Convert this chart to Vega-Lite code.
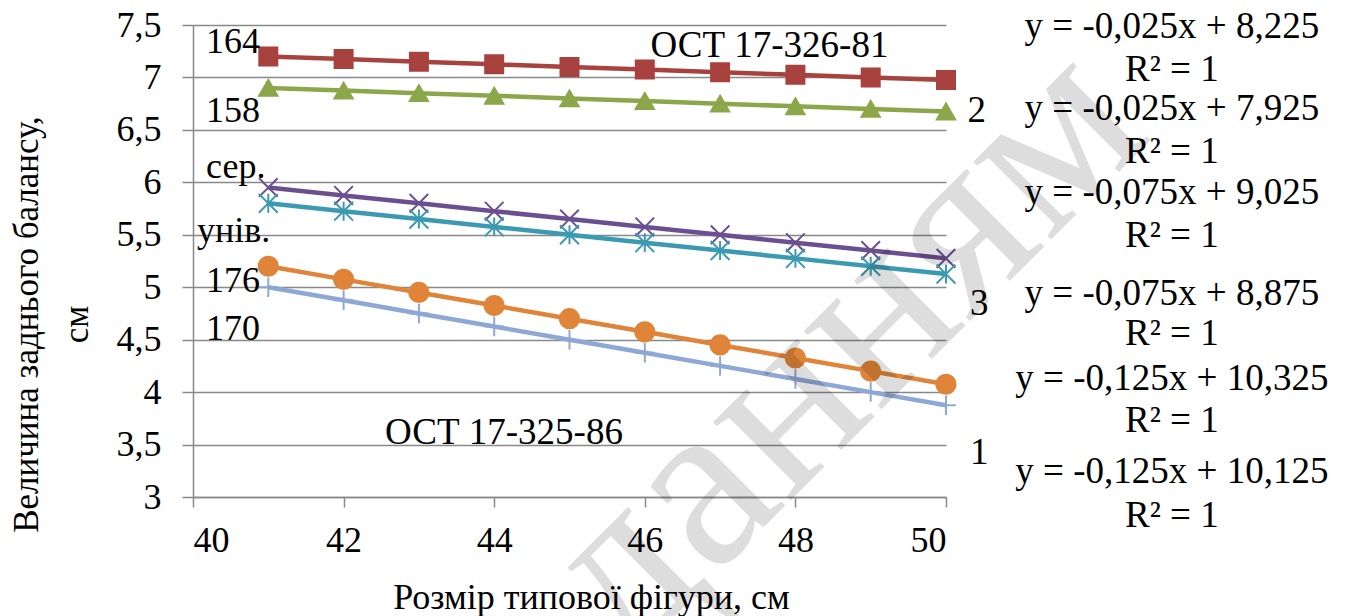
{
  "$schema": "https://vega.github.io/schema/vega-lite/v6.json",
  "autosize": {"type": "none"},
  "padding": {"left": 193, "top": 25, "right": 413, "bottom": 119},
  "width": 753,
  "height": 472,
  "background": "#ffffff",
  "config": {
    "font": "Liberation Serif",
    "view": {"stroke": null}
  },
  "datasets": {
    "series": [
      {"s": "164", "x": 41, "y": 7.2}, {"s": "164", "x": 42, "y": 7.175}, {"s": "164", "x": 43, "y": 7.15}, {"s": "164", "x": 44, "y": 7.125}, {"s": "164", "x": 45, "y": 7.1},
      {"s": "164", "x": 46, "y": 7.075}, {"s": "164", "x": 47, "y": 7.05}, {"s": "164", "x": 48, "y": 7.025}, {"s": "164", "x": 49, "y": 7.0}, {"s": "164", "x": 50, "y": 6.975},
      {"s": "158", "x": 41, "y": 6.9}, {"s": "158", "x": 42, "y": 6.875}, {"s": "158", "x": 43, "y": 6.85}, {"s": "158", "x": 44, "y": 6.825}, {"s": "158", "x": 45, "y": 6.8},
      {"s": "158", "x": 46, "y": 6.775}, {"s": "158", "x": 47, "y": 6.75}, {"s": "158", "x": 48, "y": 6.725}, {"s": "158", "x": 49, "y": 6.7}, {"s": "158", "x": 50, "y": 6.675},
      {"s": "сер", "x": 41, "y": 5.95}, {"s": "сер", "x": 42, "y": 5.875}, {"s": "сер", "x": 43, "y": 5.8}, {"s": "сер", "x": 44, "y": 5.725}, {"s": "сер", "x": 45, "y": 5.65},
      {"s": "сер", "x": 46, "y": 5.575}, {"s": "сер", "x": 47, "y": 5.5}, {"s": "сер", "x": 48, "y": 5.425}, {"s": "сер", "x": 49, "y": 5.35}, {"s": "сер", "x": 50, "y": 5.275},
      {"s": "унів", "x": 41, "y": 5.8}, {"s": "унів", "x": 42, "y": 5.725}, {"s": "унів", "x": 43, "y": 5.65}, {"s": "унів", "x": 44, "y": 5.575}, {"s": "унів", "x": 45, "y": 5.5},
      {"s": "унів", "x": 46, "y": 5.425}, {"s": "унів", "x": 47, "y": 5.35}, {"s": "унів", "x": 48, "y": 5.275}, {"s": "унів", "x": 49, "y": 5.2}, {"s": "унів", "x": 50, "y": 5.125},
      {"s": "176", "x": 41, "y": 5.2}, {"s": "176", "x": 42, "y": 5.075}, {"s": "176", "x": 43, "y": 4.95}, {"s": "176", "x": 44, "y": 4.825}, {"s": "176", "x": 45, "y": 4.7},
      {"s": "176", "x": 46, "y": 4.575}, {"s": "176", "x": 47, "y": 4.45}, {"s": "176", "x": 48, "y": 4.325}, {"s": "176", "x": 49, "y": 4.2}, {"s": "176", "x": 50, "y": 4.075},
      {"s": "170", "x": 41, "y": 5.0}, {"s": "170", "x": 42, "y": 4.875}, {"s": "170", "x": 43, "y": 4.75}, {"s": "170", "x": 44, "y": 4.625}, {"s": "170", "x": 45, "y": 4.5},
      {"s": "170", "x": 46, "y": 4.375}, {"s": "170", "x": 47, "y": 4.25}, {"s": "170", "x": 48, "y": 4.125}, {"s": "170", "x": 49, "y": 4.0}, {"s": "170", "x": 50, "y": 3.875}
    ],
    "leftLabels": [
      {"t": "164", "x": 40.173, "y": 7.233},
      {"t": "158", "x": 40.173, "y": 6.576},
      {"t": "сер.", "x": 40.173, "y": 6.043},
      {"t": "унів.", "x": 40.053, "y": 5.433},
      {"t": "176", "x": 40.173, "y": 4.957},
      {"t": "170", "x": 40.173, "y": 4.5}
    ],
    "centerLabels": [
      {"t": "ОСТ 17-326-81", "x": 47.656, "y": 7.195},
      {"t": "ОСТ 17-325-86", "x": 44.13, "y": 3.51},
      {"t": "2", "x": 50.41, "y": 6.576},
      {"t": "3", "x": 50.44, "y": 4.738},
      {"t": "1", "x": 50.44, "y": 3.31},
      {"t": "y = -0,025x + 8,225", "x": 53.0, "y": 7.379},
      {"t": "R² = 1", "x": 53.0, "y": 6.967},
      {"t": "y = -0,025x + 7,925", "x": 53.0, "y": 6.595},
      {"t": "R² = 1", "x": 53.0, "y": 6.186},
      {"t": "y = -0,075x + 9,025", "x": 53.0, "y": 5.795},
      {"t": "R² = 1", "x": 53.0, "y": 5.386},
      {"t": "y = -0,075x + 8,875", "x": 53.0, "y": 4.833},
      {"t": "R² = 1", "x": 53.0, "y": 4.452},
      {"t": "y = -0,125x + 10,325", "x": 53.0, "y": 4.024},
      {"t": "R² = 1", "x": 53.0, "y": 3.624},
      {"t": "y = -0,125x + 10,125", "x": 53.0, "y": 3.138},
      {"t": "R² = 1", "x": 53.0, "y": 2.71}
    ],
    "watermark": [
      {"t": "данням", "x": 45.75, "y": 1.4}
    ]
  },
  "layer": [
    {
      "data": {"name": "series"},
      "mark": {"type": "line", "strokeWidth": 4.5},
      "encoding": {
        "x": {
          "field": "x", "type": "quantitative",
          "scale": {"domain": [40, 50], "nice": false, "zero": false},
          "axis": {
            "values": [40, 42, 44, 46, 48, 50],
            "format": "d",
            "grid": false,
            "domainColor": "#898989", "domainWidth": 1.5,
            "tickColor": "#898989", "tickWidth": 1.5, "tickSize": 10,
            "labelFont": "Liberation Serif", "labelFontSize": 36, "labelColor": "#000000", "labelPadding": 16,
            "title": "Розмір типової фігури, см",
            "titleFont": "Liberation Serif", "titleFontSize": 36, "titleFontWeight": "normal", "titleColor": "#000000",
            "titleX": 398, "titleY": 111, "titleAlign": "center", "titleBaseline": "alphabetic"
          }
        },
        "y": {
          "field": "y", "type": "quantitative",
          "scale": {"domain": [3, 7.5], "nice": false, "zero": false},
          "axis": {
            "values": [3, 3.5, 4, 4.5, 5, 5.5, 6, 6.5, 7, 7.5],
            "labelExpr": "replace(format(datum.value, '.1~f'), '.', ',')",
            "grid": true, "gridColor": "#898989", "gridWidth": 1.5,
            "domainColor": "#898989", "domainWidth": 1.5,
            "tickColor": "#898989", "tickWidth": 1.5, "tickSize": 11,
            "labelFont": "Liberation Serif", "labelFontSize": 36, "labelColor": "#000000", "labelPadding": 21,
            "title": ["Величина заднього балансу,", "см"],
            "titleFont": "Liberation Serif", "titleFontSize": 35, "titleFontWeight": "normal", "titleColor": "#000000",
            "titleAngle": 270, "titleAlign": "center", "titleBaseline": "alphabetic", "titleLineHeight": 50,
            "titleX": -156, "titleY": 299
          }
        },
        "color": {
          "field": "s", "type": "nominal",
          "scale": {"domain": ["164", "158", "сер", "унів", "176", "170"], "range": ["#A8423F", "#8BA74A", "#6C4F90", "#3B9AB2", "#DF8438", "#8EA8D6"]},
          "legend": null
        },
        "detail": {"field": "s"}
      }
    },
    {
      "data": {"name": "series"},
      "mark": {"type": "point", "filled": true, "strokeWidth": 2, "opacity": 1},
      "encoding": {
        "x": {"field": "x", "type": "quantitative"},
        "y": {"field": "y", "type": "quantitative"},
        "shape": {
          "field": "s", "type": "nominal",
          "scale": {"domain": ["164", "158", "сер", "унів", "176", "170"], "range": ["square", "triangle-up", "M-1,-1L1,1M-1,1L1,-1", "M-1,-1L1,1M-1,1L1,-1M0,-1L0,1", "circle", "M0,-1L0,1M-1,0L1,0"]},
          "legend": null
        },
        "fill": {
          "field": "s", "type": "nominal",
          "scale": {"domain": ["164", "158", "сер", "унів", "176", "170"], "range": ["#A8423F", "#8BA74A", "#6C4F90", "#3B9AB2", "#DF8438", "#8EA8D6"]},
          "legend": null
        },
        "stroke": {
          "field": "s", "type": "nominal",
          "scale": {"domain": ["164", "158", "сер", "унів", "176", "170"], "range": ["#A8423F", "#8BA74A", "#6C4F90", "#3B9AB2", "#DF8438", "#8EA8D6"]},
          "legend": null
        },
        "size": {
          "field": "s", "type": "nominal",
          "scale": {"domain": ["164", "158", "сер", "унів", "176", "170"], "range": [324, 380, 400, 324, 324, 400]},
          "legend": null
        }
      }
    },
    {
      "data": {"name": "leftLabels"},
      "mark": {"type": "text", "align": "left", "baseline": "alphabetic", "font": "Liberation Serif", "fontSize": 36, "color": "#000000"},
      "encoding": {
        "x": {"field": "x", "type": "quantitative"},
        "y": {"field": "y", "type": "quantitative"},
        "text": {"field": "t"}
      }
    },
    {
      "data": {"name": "centerLabels"},
      "mark": {"type": "text", "align": "center", "baseline": "alphabetic", "font": "Liberation Serif", "fontSize": 37, "color": "#000000"},
      "encoding": {
        "x": {"field": "x", "type": "quantitative"},
        "y": {"field": "y", "type": "quantitative"},
        "text": {"field": "t"}
      }
    },
    {
      "data": {"name": "watermark"},
      "mark": {"type": "text", "align": "left", "baseline": "alphabetic", "font": "Liberation Serif", "fontSize": 240, "angle": -45, "color": "#000000", "opacity": 0.13},
      "encoding": {
        "x": {"field": "x", "type": "quantitative"},
        "y": {"field": "y", "type": "quantitative"},
        "text": {"field": "t"}
      }
    }
  ]
}
